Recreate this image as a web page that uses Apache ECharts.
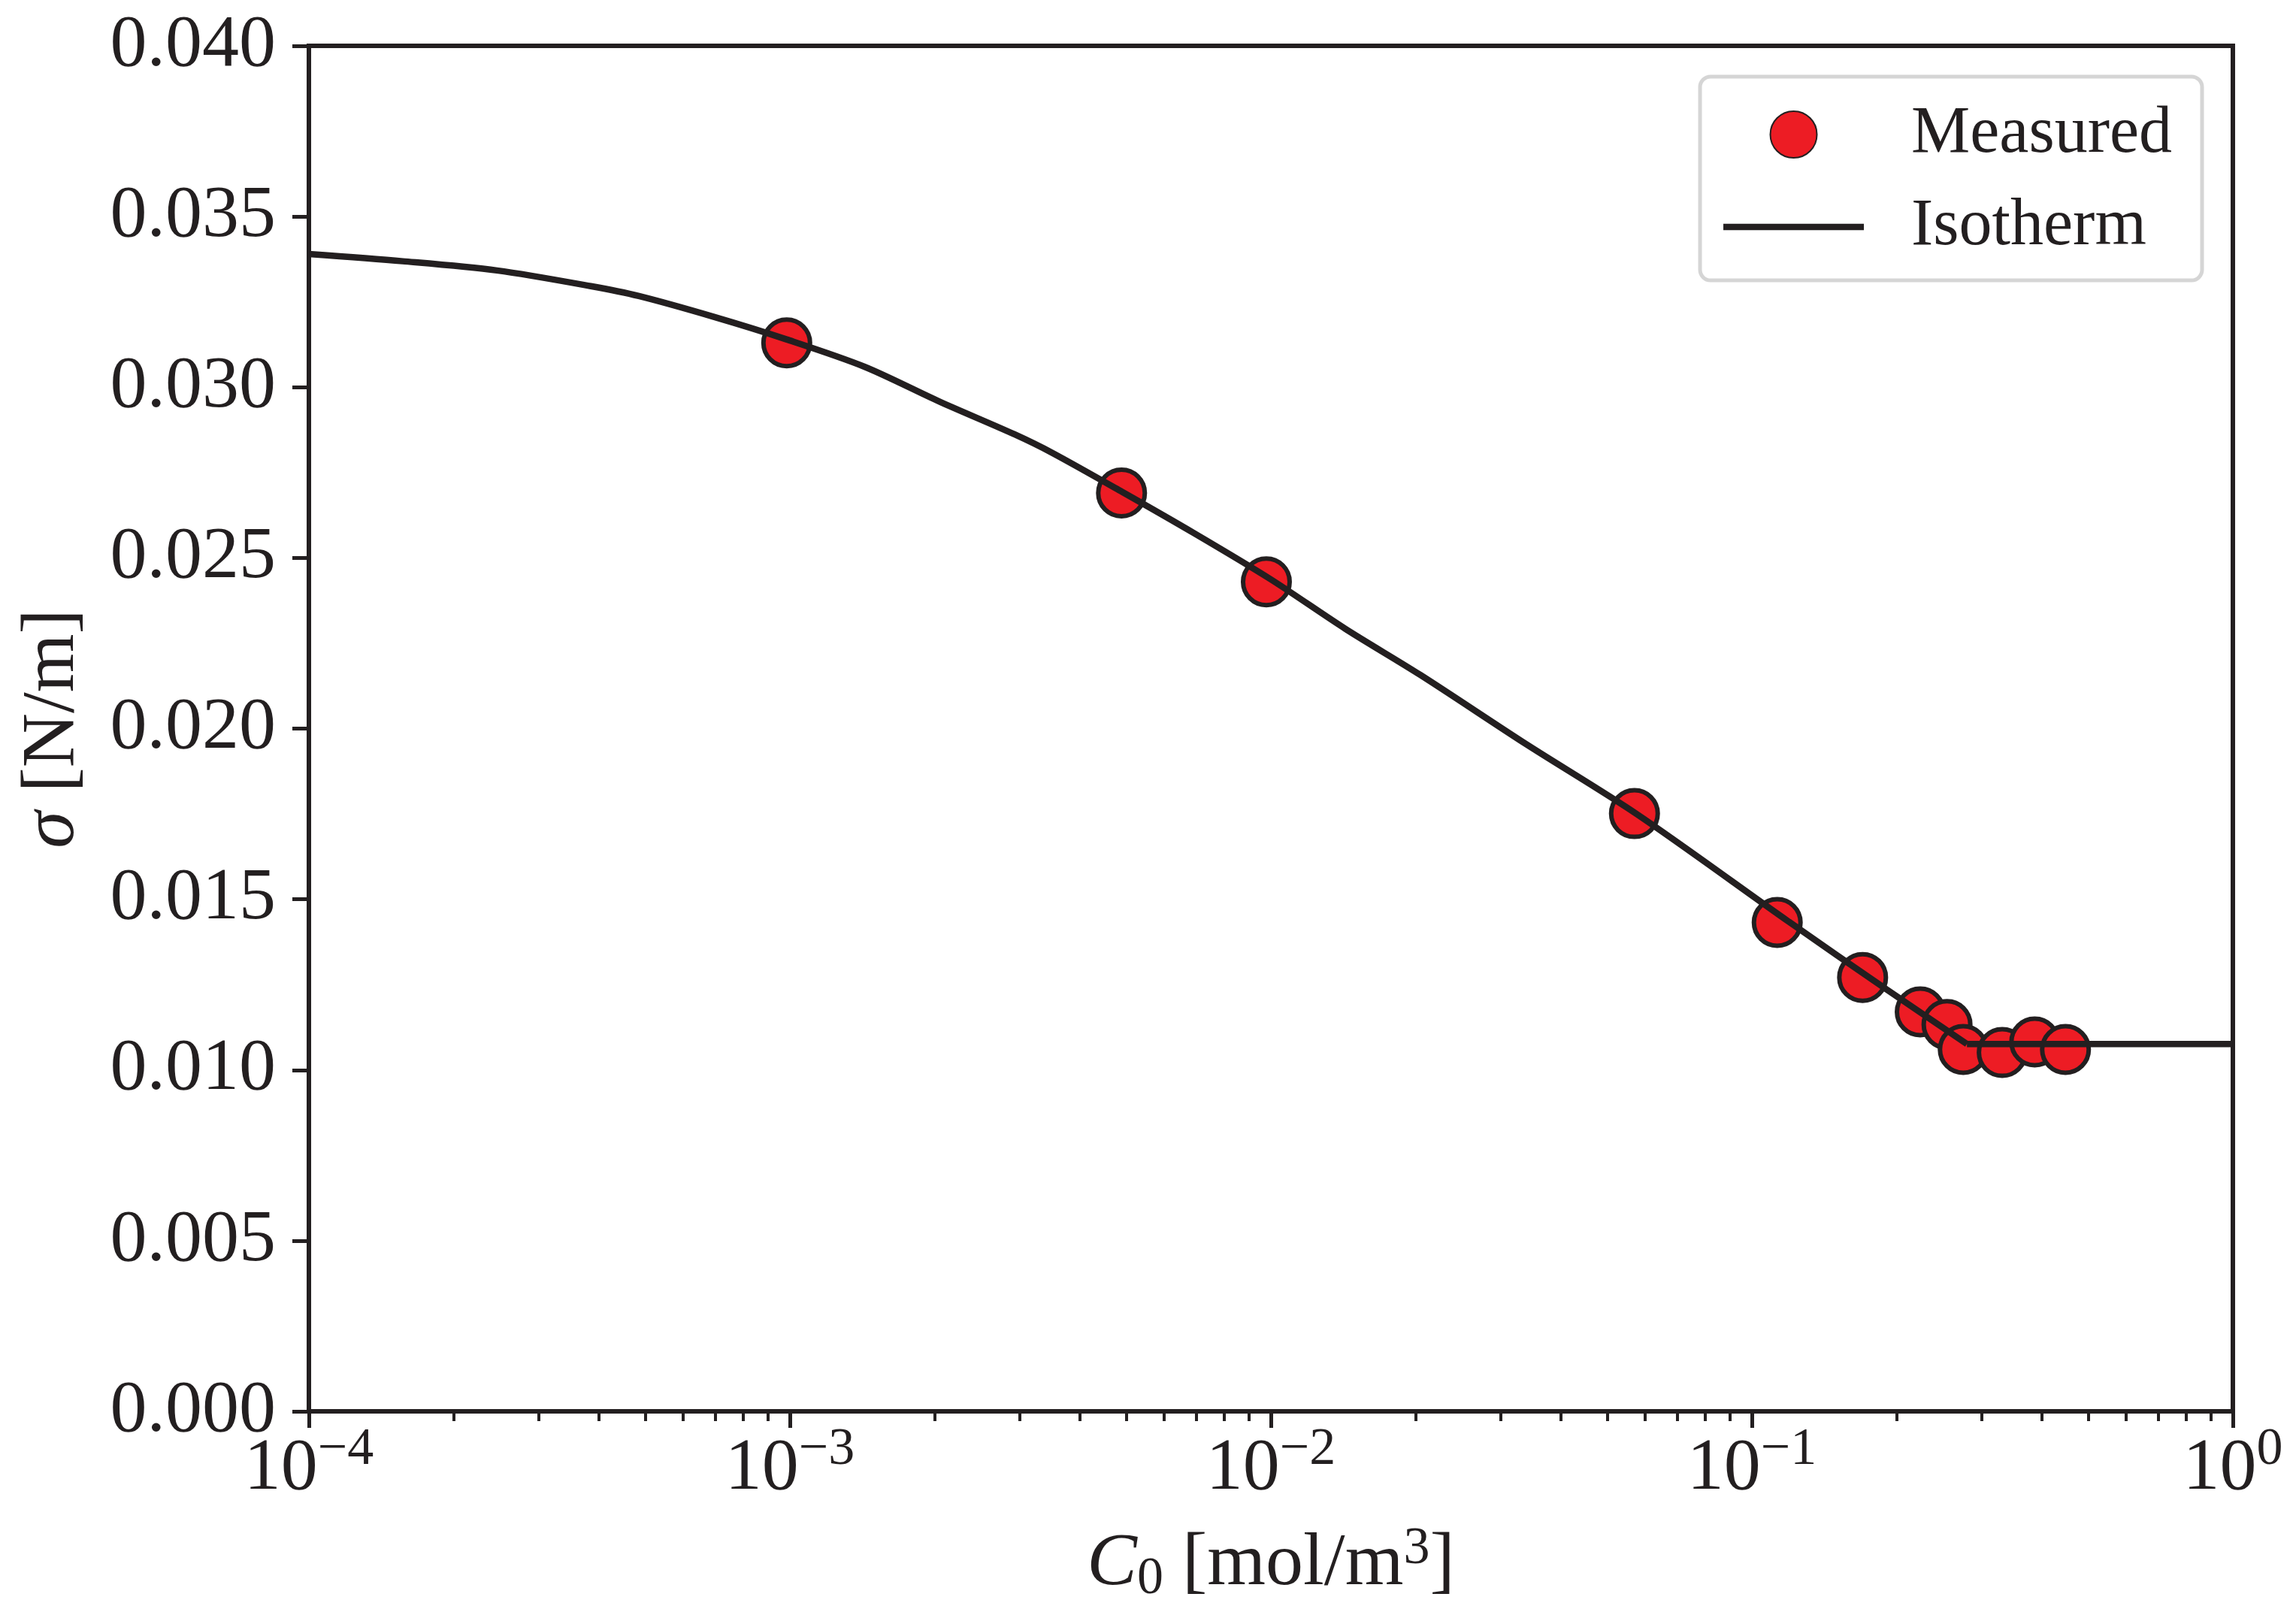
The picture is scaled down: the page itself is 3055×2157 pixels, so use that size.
<!DOCTYPE html>
<html>
<head>
<meta charset="utf-8">
<script src="https://cdn.jsdelivr.net/npm/echarts@6/dist/echarts.min.js"></script>
<style>
html,body{margin:0;padding:0;background:#fff;}
#chart{width:3055px;height:2157px;}
</style>
</head>
<body>
<div id="chart"></div>
<script>
// ---- data ----
const C_MEASURED = [0.000985, 0.004892, 0.009786, 0.05700, 0.1129, 0.1699, 0.2239, 0.2545, 0.2751, 0.3315, 0.3873, 0.4487];
const SIGMA_MEASURED = [0.03130, 0.02690, 0.02430, 0.01751, 0.01432, 0.01271, 0.01170, 0.01133, 0.01060, 0.01051, 0.01082, 0.01060];

// isotherm below the break point (curved part)
const C_ISOTHERM = [1e-4, 1.567e-4, 2.46e-4, 3.855e-4, 4.853e-4, 6.95e-4, 9.84e-4, 1.429e-3, 2.046e-3, 2.931e-3, 3.508e-3, 4.898e-3, 6.95e-3, 1.0e-2, 1.429e-2, 2.046e-2, 3.388e-2, 5.77e-2, 0.1194, 0.1905, 0.280];
const SIGMA_ISOTHERM = [0.03390, 0.03369, 0.03342, 0.03296, 0.03267, 0.03206, 0.03140, 0.03060, 0.02958, 0.02862, 0.02808, 0.02694, 0.02571, 0.02437, 0.02292, 0.02157, 0.01955, 0.01749, 0.01434, 0.01236, 0.01076];
// isotherm plateau above the break point
const C_PLATEAU = [0.280, 1.0];
const SIGMA_PLATEAU = [0.01076, 0.01076];

const SERIES_NAMES = ['Measured', 'Isotherm'];
const X_DECADES = [1e-4, 1e-3, 1e-2, 1e-1];
const MINOR_MULTIPLIERS = [2, 3, 4, 5, 6, 7, 8, 9];
const Y_TICKS_STEP = 0.005;

// ---- build ----
const FONT = "'Liberation Serif', 'DejaVu Serif', serif";
const INK = '#231f20';
const minorTicks = [];
X_DECADES.forEach(d => MINOR_MULTIPLIERS.forEach(m => minorTicks.push(m * d)));

const measured = C_MEASURED.map((c, i) => [c, SIGMA_MEASURED[i]]);
const isotherm = C_ISOTHERM.map((c, i) => [c, SIGMA_ISOTHERM[i]]);
const plateau = C_PLATEAU.map((c, i) => [c, SIGMA_PLATEAU[i]]);

const chart = echarts.init(document.getElementById('chart'), null, {renderer: 'canvas'});
chart.setOption({
  backgroundColor: '#ffffff',
  animation: false,
  grid: {
    left: 411, top: 61, right: 84, bottom: 279,
    show: true, borderColor: INK, borderWidth: 6, backgroundColor: 'transparent'
  },
  legend: {
    orient: 'vertical',
    right: 125, top: 102,
    data: [
      {name: SERIES_NAMES[0]},
      {name: SERIES_NAMES[1], icon: 'path://M0,0 L187,0 L187,8.5 L0,8.5 Z', itemStyle: {color: INK, borderWidth: 0}}
    ],
    itemWidth: 187, itemHeight: 62, itemGap: 35,
    symbolKeepAspect: true,
    padding: [33, 40, 27, 31],
    borderColor: '#d5d5d5', borderWidth: 5, borderRadius: 14,
    backgroundColor: '#ffffff',
    textStyle: {fontFamily: FONT, fontSize: 88, color: INK, padding: [0, 0, 0, 58]}
  },
  xAxis: [{
    type: 'log', logBase: 10, min: 1e-4, max: 1, splitNumber: 4,
    position: 'bottom',
    axisLine: {show: true, onZero: false, lineStyle: {color: INK, width: 6}},
    axisTick: {show: true, inside: false, length: 22, lineStyle: {color: INK, width: 5}},
    splitLine: {show: false},
    axisLabel: {
      margin: 17,
      formatter: function (v) {
        const e = Math.round(Math.log10(v));
        return '{b|10}{s|' + (e < 0 ? '\u2212' + (-e) : e) + '}';
      },
      rich: {
        b: {fontFamily: FONT, fontSize: 98, color: INK, lineHeight: 120},
        s: {fontFamily: FONT, fontSize: 70, color: INK, lineHeight: 70, verticalAlign: 'top'}
      }
    },
    name: '{i|C}{sub|0}{n| [mol/m}{sup|3}{n|]}',
    nameLocation: 'middle', nameGap: 149,
    nameTextStyle: {
      rich: {
        i: {fontFamily: FONT, fontSize: 100, fontStyle: 'italic', color: INK, lineHeight: 110},
        n: {fontFamily: FONT, fontSize: 100, color: INK, lineHeight: 110},
        sub: {fontFamily: FONT, fontSize: 70, color: INK, lineHeight: 70, verticalAlign: 'bottom'},
        sup: {fontFamily: FONT, fontSize: 70, color: INK, lineHeight: 70, verticalAlign: 'top'}
      }
    }
  }, {
    type: 'log', logBase: 10, min: 1e-4, max: 1, gridIndex: 0,
    position: 'bottom',
    axisLine: {show: false},
    axisLabel: {show: false},
    splitLine: {show: false},
    axisTick: {show: true, inside: false, length: 13, customValues: minorTicks, lineStyle: {color: INK, width: 4}}
  }],
  yAxis: {
    type: 'value', min: 0, max: 0.04, interval: Y_TICKS_STEP,
    axisLine: {show: true, lineStyle: {color: INK, width: 6}},
    axisTick: {show: true, inside: false, length: 22, lineStyle: {color: INK, width: 5}},
    splitLine: {show: false},
    axisLabel: {
      margin: 44, fontFamily: FONT, fontSize: 98, color: INK,
      formatter: v => v.toFixed(3)
    },
    name: '{i|\u03c3}{n| [N/m]}',
    nameLocation: 'middle', nameGap: 290, nameRotate: 90,
    nameTextStyle: {
      rich: {
        i: {fontFamily: FONT, fontSize: 100, fontStyle: 'italic', color: INK},
        n: {fontFamily: FONT, fontSize: 100, color: INK}
      }
    }
  },
  series: [{
    name: SERIES_NAMES[0], type: 'scatter', xAxisIndex: 0,
    data: measured,
    symbol: 'circle', symbolSize: 62,
    itemStyle: {color: '#ed1c24', borderColor: INK, borderWidth: 6, opacity: 1},
    z: 2
  }, {
    name: SERIES_NAMES[1], type: 'line', xAxisIndex: 0,
    data: isotherm,
    symbol: 'none', showSymbol: false, smooth: 0.3,
    lineStyle: {color: INK, width: 8.5},
    itemStyle: {color: INK},
    z: 3
  }, {
    name: SERIES_NAMES[1], type: 'line', xAxisIndex: 0,
    data: plateau,
    symbol: 'none', showSymbol: false, smooth: false,
    lineStyle: {color: INK, width: 8.5},
    itemStyle: {color: INK},
    z: 3
  }]
});
</script>
</body>
</html>
